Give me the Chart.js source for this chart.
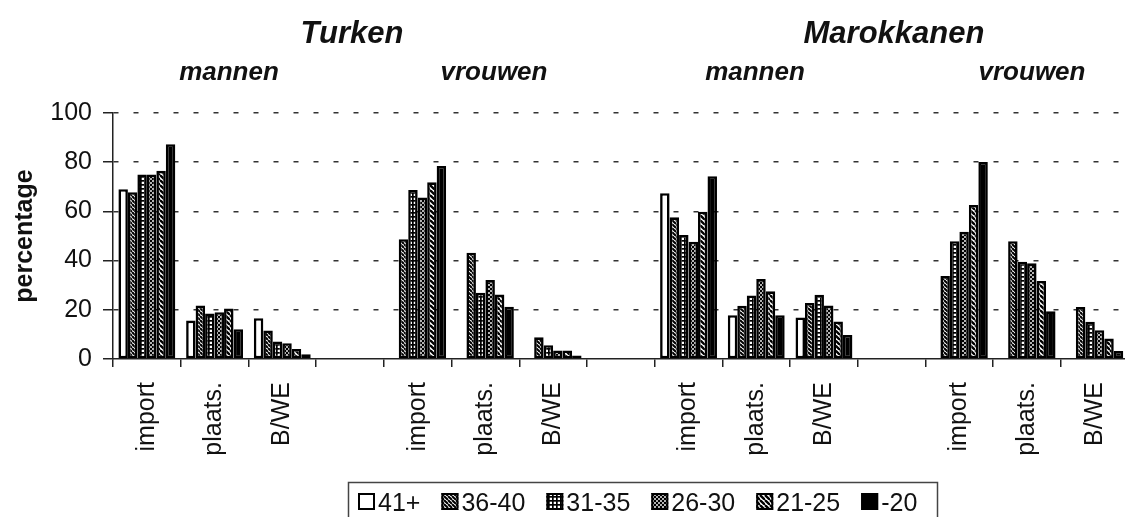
<!DOCTYPE html>
<html><head><meta charset="utf-8">
<script src="https://cdn.jsdelivr.net/npm/chart.js@4.4.1/dist/chart.umd.min.js"></script>
<style>
html,body{margin:0;padding:0;background:#fff;overflow:hidden;}
#wrap{width:1125px;height:517px;overflow:hidden;position:relative;background:#fff;}
canvas{display:block;}
</style></head><body>
<div id="wrap"><canvas id="c" width="1140" height="517"></canvas></div>
<script>
// ---- data ----
const categories = ['import','plaats.','B/WE','', 'import','plaats.','B/WE','', 'import','plaats.','B/WE','', 'import','plaats.','B/WE'];
const ageGroups = ['41+','36-40','31-35','26-30','21-25','-20'];
const v41   = [69,   15.6, 16.6, null, null, null, null, null, 67.4, 17.8, 16.9, null, null, null, null];
const v3640 = [67.8, 21.7, 11.6, null, 48.7, 43.2, 8.8,  null, 57.6, 21.6, 22.8, null, 33.7, 47.9, 21.1];
const v3135 = [75,   18.5, 7.1,  null, 68.7, 26.9, 5.6,  null, 50.4, 25.8, 26.1, null, 47.9, 39.5, 15.1];
const v2630 = [75,   19,   6.4,  null, 65.7, 32.1, 3.5,  null, 47.7, 32.5, 21.7, null, 51.7, 38.9, 11.7];
const v2125 = [76.5, 20.5, 4.1,  null, 71.8, 26.2, 3.5,  null, 59.9, 27.5, 15.2, null, 62.6, 31.7, 8.3];
const v20   = [87.3, 12.1, 1.9,  null, 78.5, 21.2, 1.4,  null, 74.3, 17.8, 9.8,  null, 80.1, 19.4, 3.3];
const yTicks = [0, 20, 40, 60, 80, 100];
const groupTitles = ['Turken', 'Marokkanen'];
const subTitles = ['mannen', 'vrouwen', 'mannen', 'vrouwen'];
const yTitle = 'percentage';

// ---- patterns ----
function makePattern(size, draw) {
  const c = document.createElement('canvas');
  c.width = c.height = size;
  const g = c.getContext('2d');
  draw(g, size);
  return document.createElement('canvas').getContext('2d').createPattern(c, 'repeat');
}
function diag(lw) {
  return (g, s) => {
    g.fillStyle = '#fff'; g.fillRect(0, 0, s, s);
    g.strokeStyle = '#000'; g.lineWidth = lw;
    for (let k = -1; k <= 1; k++) { g.beginPath(); g.moveTo(k * s, 0); g.lineTo(k * s + s, s); g.stroke(); }
  };
}
const pWhite = '#ffffff';
const pHatch1 = makePattern(4, diag(2));
const pGrid = makePattern(4, (g, s) => {
  g.fillStyle = '#fff'; g.fillRect(0, 0, s, s);
  g.fillStyle = '#000'; g.fillRect(0, 0, s, 1.7); g.fillRect(0, 0, 1.7, s);
});
const pDots = makePattern(4, (g, s) => {
  g.fillStyle = '#000'; g.fillRect(0, 0, s, s);
  g.fillStyle = '#fff';
  g.beginPath(); g.arc(1, 1, 0.95, 0, Math.PI * 2); g.fill();
  g.beginPath(); g.arc(3, 3, 0.95, 0, Math.PI * 2); g.fill();
});
const pHatch2 = makePattern(5, diag(2.3));
const pBlack = '#000000';
const fills = [pWhite, pHatch1, pGrid, pDots, pHatch2, pBlack];
const seriesValues = [v41, v3640, v3135, v2630, v2125, v20];

const FONT = '"Liberation Sans", Arial, Helvetica, sans-serif';

const annot = {
  id: 'annot',
  afterDraw(chart) {
    const ctx = chart.ctx;
    ctx.save();
    ctx.fillStyle = '#111';
    ctx.textAlign = 'center';
    ctx.textBaseline = 'alphabetic';
    ctx.font = 'italic bold 31px ' + FONT;
    ctx.fillText(groupTitles[0], 352, 43);
    ctx.fillText(groupTitles[1], 894, 43);
    ctx.font = 'italic bold 26px ' + FONT;
    const subX = [229, 494, 755, 1032];
    subTitles.forEach((t, i) => ctx.fillText(t, subX[i], 80));
    // legend
    ctx.lineWidth = 1.5;
    ctx.strokeStyle = '#444';
    ctx.strokeRect(348.5, 482.5, 589, 60);
    ctx.font = '25px ' + FONT;
    ctx.textAlign = 'left';
    let x = 358;
    chart.data.datasets.forEach(ds => {
      ctx.fillStyle = ds.backgroundColor;
      ctx.fillRect(x, 493, 17, 17);
      ctx.strokeStyle = '#000';
      ctx.lineWidth = 2;
      ctx.strokeRect(x + 1, 494, 15, 15);
      x += 20;
      ctx.fillStyle = '#111';
      ctx.fillText(ds.label, x, 511);
      x += ctx.measureText(ds.label).width + 21;
    });
    ctx.restore();
  }
};

new Chart(document.getElementById('c'), {
  type: 'bar',
  data: {
    labels: categories,
    datasets: ageGroups.map((g, i) => ({
      label: g,
      data: seriesValues[i],
      backgroundColor: fills[i],
      borderColor: '#000',
      borderWidth: 2.6,
      borderSkipped: false
    }))
  },
  options: {
    responsive: false,
    animation: false,
    devicePixelRatio: 1,
    layout: { padding: { top: 113, left: 0, right: 6, bottom: 0 } },
    plugins: { legend: { display: false }, tooltip: { enabled: false } },
    datasets: { bar: { categoryPercentage: 0.84, barPercentage: 1 } },
    scales: {
      x: {
        grid: { offset: true, drawOnChartArea: false, tickLength: 8, tickColor: '#222', lineWidth: 1.5, color: '#222' },
        border: { color: '#222', width: 1.5 },
        ticks: { autoSkip: false, minRotation: 90, maxRotation: 90, padding: 15, color: '#111', font: { family: FONT, size: 25 } },
        afterFit: s => { s.height = 158; }
      },
      y: {
        min: 0, max: 100,
        afterBuildTicks: s => { s.ticks = yTicks.map(v => ({ value: v })); },
        ticks: { padding: 11, color: '#111', font: { family: FONT, size: 25 } },
        grid: {
          color: c => (c.tick && c.tick.value === 0) ? 'rgba(0,0,0,0)' : '#333',
          lineWidth: 1.5, tickLength: 10, tickColor: '#222'
        },
        border: { color: '#222', width: 1.5, dash: [5, 15] },
        title: { display: true, text: yTitle, color: '#111', font: { family: FONT, size: 25, weight: 'bold' }, padding: { top: 10, bottom: 0 } },
        afterFit: s => { s.width = 113; }
      }
    }
  },
  plugins: [annot]
});
</script>
</body></html>
